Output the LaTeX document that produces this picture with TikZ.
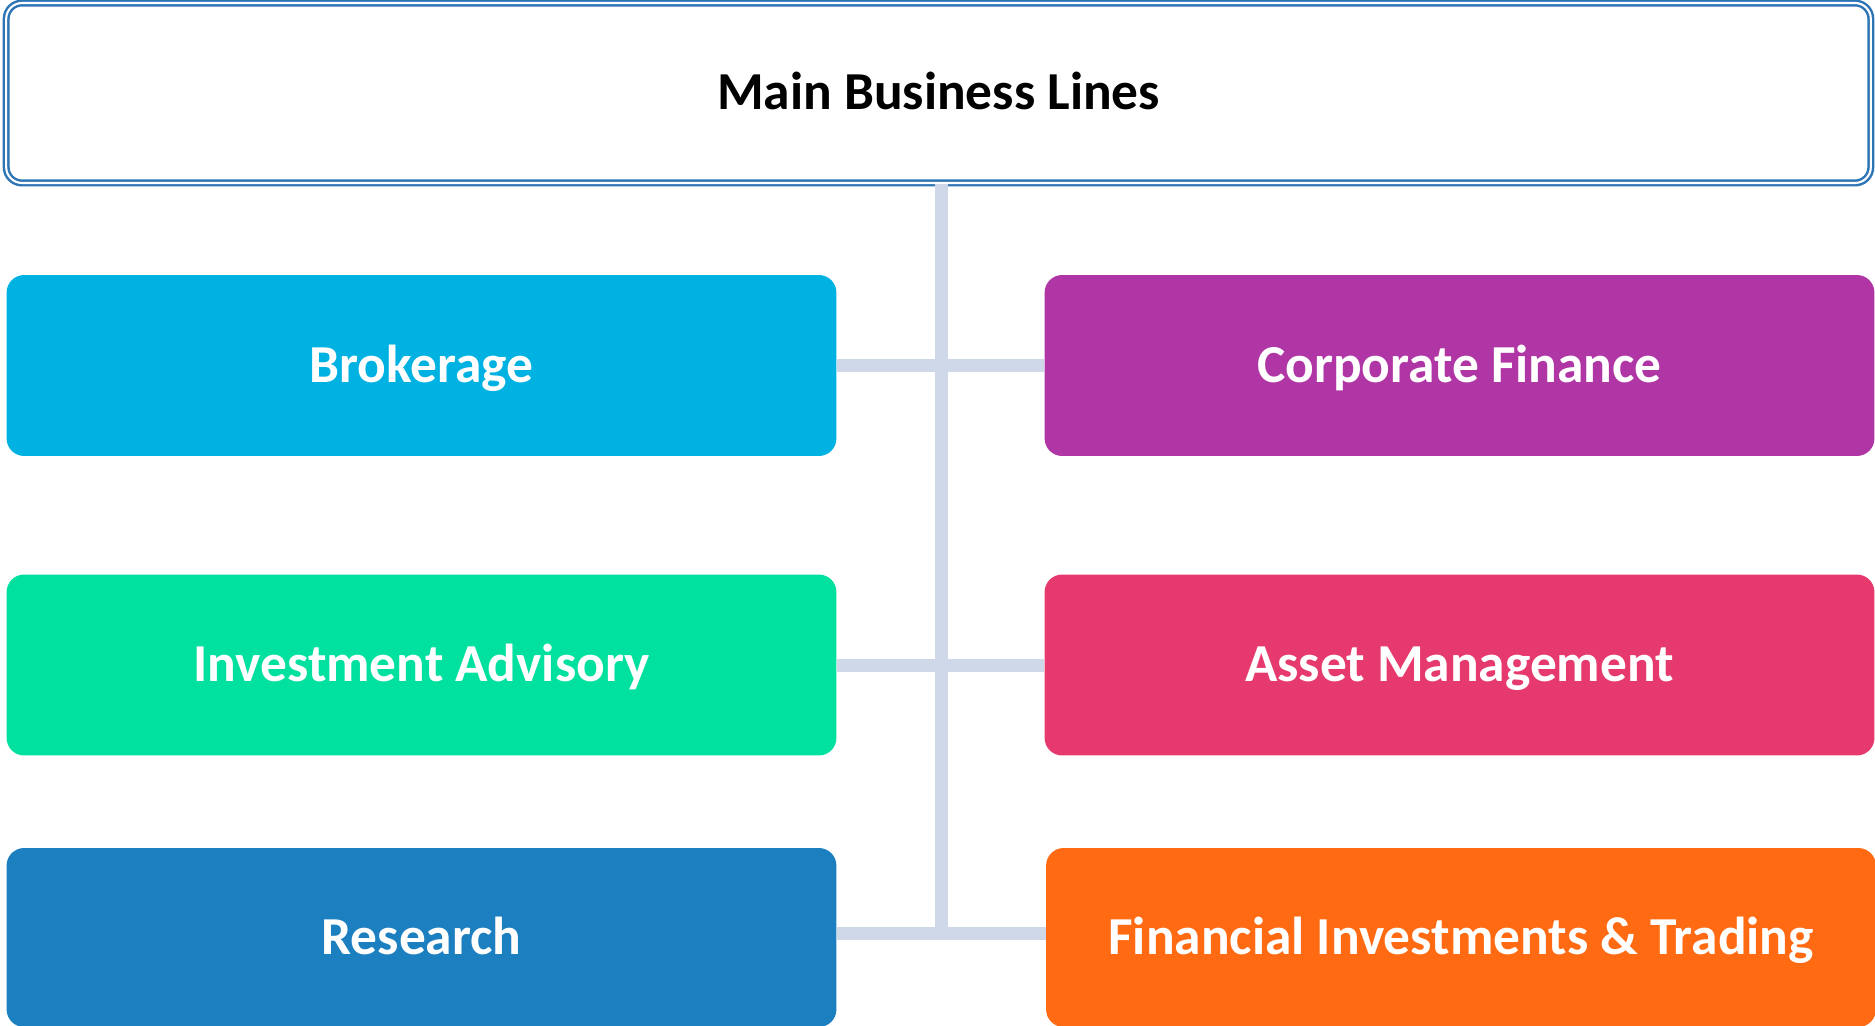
\documentclass[tikz,border=0pt]{standalone}
\usepackage{fontspec}
\setmainfont{Carlito}
\definecolor{mainblue}{HTML}{2E75B6}
\definecolor{linkgray}{HTML}{CFD8E8}
\definecolor{brokcol}{HTML}{00B2E2}
\definecolor{corpcol}{HTML}{B035A5}
\definecolor{advcol}{HTML}{00E09E}
\definecolor{assetcol}{HTML}{E63A6E}
\definecolor{rescol}{HTML}{1B7FC0}
\definecolor{tradecol}{HTML}{FF6A13}
\begin{document}
\begin{tikzpicture}[
    x=0.02cm, y=-0.02cm,
    headbox/.style={draw=mainblue, double=white, line width=1.4pt,
      double distance=1.2pt, rounded corners=9pt, fill=white,
      minimum width=37.3cm, minimum height=3.6cm, inner sep=0pt,
      text height=19.2pt, text depth=0pt,
      font=\fontsize{30.4}{34}\selectfont\bfseries},
    linebox/.style={fill=#1, rounded corners=10pt, text=white,
      minimum width=16.6cm, minimum height=3.62cm, inner sep=0pt,
      text height=19.2pt, text depth=0pt,
      font=\fontsize{30.4}{34}\selectfont\bfseries},
    link/.style={draw=linkgray, line width=7.4pt}
]
  \useasboundingbox (0,0) rectangle (1875,1026);
  % the head of the chart
  \node[headbox] (main) at (938.5,93) {Main Business Lines};
  \coordinate (trunk) at (941.5,939);
  \coordinate (jr) at (941.5,933);
  % the six lines, left and right of the trunk
  \node[linebox=brokcol] (brokerage) at (421.5,365.5) {Brokerage};
  \node[linebox=corpcol] (corpfin) at (1459.5,365.5) {Corporate Finance};
  \node[linebox=advcol] (advisory) at (421.5,665) {Investment Advisory};
  \node[linebox=assetcol] (assetmgmt) at (1459.5,665) {Asset Management};
  \node[linebox=rescol, minimum height=3.58cm] (research) at (421.5,937.5) {Research};
  \node[linebox=tradecol, minimum height=3.58cm] (trading) at (1461,937.5) {Financial Investments \& Trading};
  \draw[link] (main.south -| trunk) -- (trunk);
  \draw[link] (brokerage.east) -- (corpfin.west);
  \draw[link] (advisory.east) -- (assetmgmt.west);
  \draw[link] (research.east |- jr) -- (trading.west |- jr);
\end{tikzpicture}
\end{document}
